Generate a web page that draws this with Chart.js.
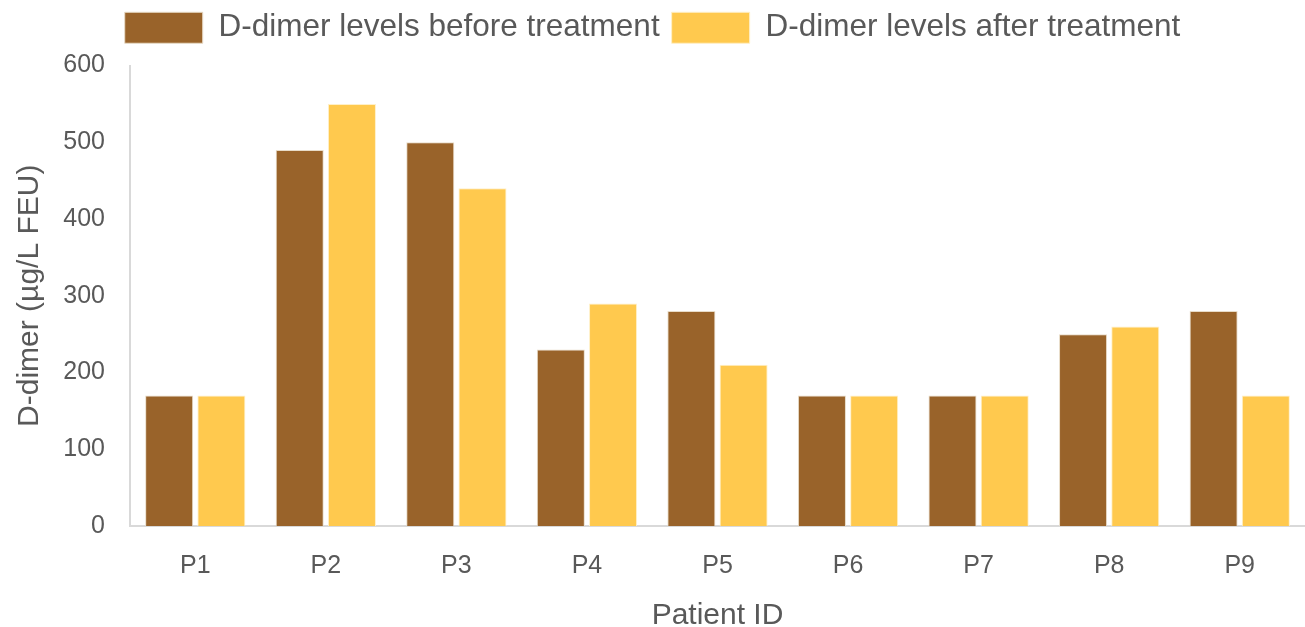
<!DOCTYPE html>
<html>
<head>
<meta charset="utf-8">
<script src="https://cdn.jsdelivr.net/npm/chart.js@4"></script>
<style>
    html, body { margin: 0; padding: 0; background: #ffffff; }
    #wrap { width: 1305px; height: 627px; position: relative; }
</style>
</head>
<body>
<div id="wrap"><canvas id="ddimerChart"></canvas></div>
<script>
// chart data
const patients = ['P1', 'P2', 'P3', 'P4', 'P5', 'P6', 'P7', 'P8', 'P9'];
const beforeTreatment = [170, 490, 500, 230, 280, 170, 170, 250, 280];
const afterTreatment = [170, 550, 440, 290, 210, 170, 170, 260, 170];
const yTicks = [0, 100, 200, 300, 400, 500, 600];

const textColor = '#595959';
const fontFamily = '"Liberation Sans", Arial, sans-serif';

// extra space between legend and plot area
const legendMargin = {
    id: 'legendMargin',
    beforeInit(chart) {
        const origFit = chart.legend.fit;
        chart.legend.fit = function () {
            origFit.bind(chart.legend)();
            this.height += 12;
        };
    }
};

const ctx = document.getElementById('ddimerChart').getContext('2d');

new Chart(ctx, {
    type: 'bar',
    data: {
        labels: patients,
        datasets: [
            {
                label: 'D-dimer levels before treatment',
                data: beforeTreatment,
                backgroundColor: '#99632a',
                borderColor: '#e8dcc8',
                borderWidth: 1,
                categoryPercentage: 0.8,
                barPercentage: 0.92
            },
            {
                label: 'D-dimer levels after treatment',
                data: afterTreatment,
                backgroundColor: '#ffc94e',
                borderColor: '#fff0c8',
                borderWidth: 1,
                categoryPercentage: 0.8,
                barPercentage: 0.92
            }
        ]
    },
    plugins: [legendMargin],
    options: {
        responsive: true,
        maintainAspectRatio: false,
        animation: false,
        layout: {
            padding: { top: 0, right: 0, bottom: 0, left: 0 }
        },
        plugins: {
            tooltip: { enabled: false },
            legend: {
                position: 'top',
                labels: {
                    boxWidth: 78,
                    boxHeight: 31,
                    padding: 12,
                    color: textColor,
                    font: { family: fontFamily, size: 31.5 }
                }
            }
        },
        scales: {
            x: {
                grid: { display: false, drawTicks: false },
                border: { display: true, color: '#d9d9d9', width: 2 },
                afterFit: scale => { scale.height = 101; },
                ticks: {
                    color: textColor,
                    padding: 28,
                    font: { family: fontFamily, size: 25, lineHeight: 1 }
                },
                title: {
                    display: true,
                    text: 'Patient ID',
                    color: textColor,
                    padding: { top: 0, bottom: -4 },
                    font: { family: fontFamily, size: 30, lineHeight: 1 }
                }
            },
            y: {
                min: 0,
                max: 600,
                afterBuildTicks: axis => {
                    axis.ticks = yTicks.map(v => ({ value: v }));
                },
                afterFit: scale => { scale.width = 130; },
                grid: { display: false, drawTicks: false },
                border: { display: true, color: '#d9d9d9', width: 2 },
                ticks: {
                    color: textColor,
                    padding: 25,
                    font: { family: fontFamily, size: 25 }
                },
                title: {
                    display: true,
                    text: 'D-dimer (µg/L FEU)',
                    color: textColor,
                    padding: { top: 15, bottom: 0 },
                    font: { family: fontFamily, size: 30, lineHeight: 1 }
                }
            }
        }
    }
});
</script>
</body>
</html>
